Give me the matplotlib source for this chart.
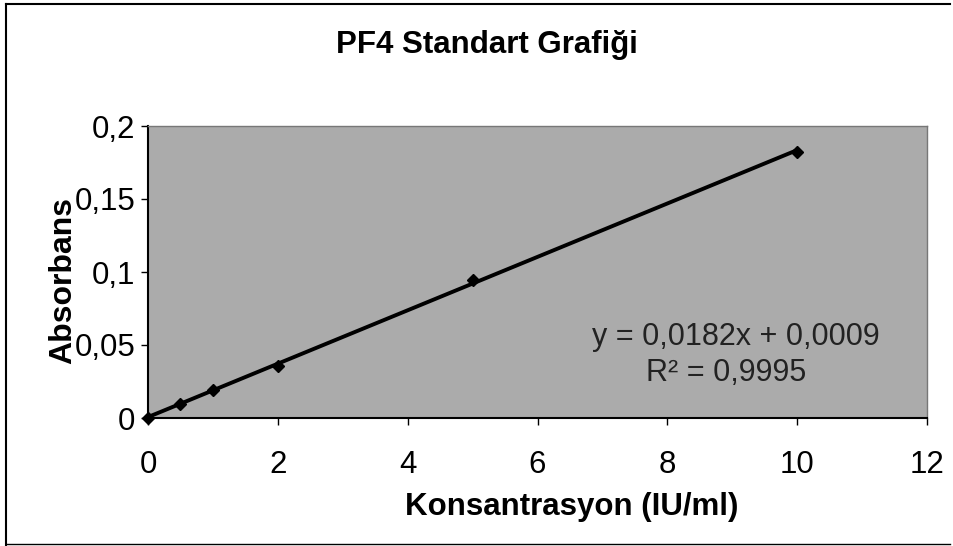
import matplotlib
matplotlib.use("Agg")
import matplotlib.pyplot as plt
import numpy as np
from matplotlib.lines import Line2D

plt.rcParams['font.family'] = ['Liberation Sans', 'DejaVu Sans']

concentration = [0, 0.5, 1, 2, 5, 10]
absorbance = [0.0, 0.0098, 0.0195, 0.0358, 0.0945, 0.1825]
x_ticks = [0, 2, 4, 6, 8, 10, 12]
y_ticks = [0, 0.05, 0.1, 0.15, 0.2]
y_tick_labels = ["0", "0,05", "0,1", "0,15", "0,2"]
x_tick_labels = ["0", "2", "4", "6", "8", "10", "12"]
title = "PF4 Standart Grafiği"
xlabel = "Konsantrasyon (IU/ml)"
ylabel = "Absorbans"
eq_text = "y = 0,0182x + 0,0009"
r2_text = "R² = 0,9995"

W, H = 954, 546
fig = plt.figure(figsize=(W / 100, H / 100), dpi=100)
fig.patch.set_facecolor("white")

ax = fig.add_axes([148 / W, 1 - 418 / H, (927 - 148) / W, (418 - 126) / H])
ax.set_facecolor("#ababab")

# trendline from the data
coef = np.polyfit(concentration, absorbance, 1)
xl = np.array([min(concentration), max(concentration)])
ax.plot(xl, np.polyval(coef, xl), color="black", lw=2.8, zorder=3, solid_capstyle="butt")
ax.plot(concentration, absorbance, linestyle="none", marker="D", markersize=6.5,
        color="black", zorder=4, clip_on=False)

ax.set_xlim(0, 12)
ax.set_ylim(0, 0.2)
ax.set_xticks(x_ticks)
ax.set_xticklabels(x_tick_labels)
ax.set_yticks(y_ticks)
ax.set_yticklabels(y_tick_labels)
ax.tick_params(axis="x", direction="out", length=5, width=1, pad=18, labelsize=22.5)
ax.tick_params(axis="y", direction="out", length=5, width=1, pad=4, labelsize=22.5)

for s in ["left", "bottom"]:
    ax.spines[s].set_color("black")
    ax.spines[s].set_linewidth(1.5)
for s in ["top", "right"]:
    ax.spines[s].set_color("#777777")
    ax.spines[s].set_linewidth(1.0)

ax.text(9.05, 0.0558, eq_text, fontsize=22, ha="center", va="center", color="#222222")
ax.text(8.9, 0.0305, r2_text, fontsize=22, ha="center", va="center", color="#222222")

fig.text(487 / W, 1 - 45 / H, title, fontsize=22.5, fontweight="bold", ha="center", va="center")
fig.text(572 / W, 1 - 507 / H, xlabel, fontsize=22.5, fontweight="bold", ha="center", va="center")
fig.text(63 / W, 1 - 281 / H, ylabel, fontsize=23, fontweight="bold", ha="center", va="center",
         rotation=90)

# outer frame (top, left, bottom)
fig.add_artist(Line2D([6 / W, 6 / W], [1 - 4 / H, 1 - 545 / H], color="black", lw=1.5,
                      transform=fig.transFigure))
fig.add_artist(Line2D([6 / W, 950 / W], [1 - 4 / H, 1 - 4 / H], color="black", lw=1.5,
                      transform=fig.transFigure))
fig.add_artist(Line2D([6 / W, 950 / W], [1 - 544 / H, 1 - 544 / H], color="black", lw=1.0,
                      transform=fig.transFigure))

fig.savefig("out.png", dpi=100)
